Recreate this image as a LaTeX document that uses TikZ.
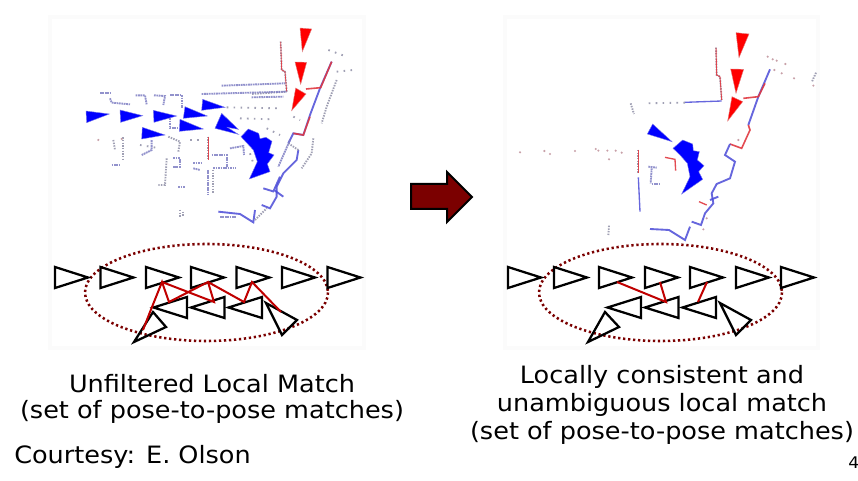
\documentclass[tikz,border=0pt]{standalone}
\usepackage{fontspec}
\setmainfont[FakeStretch=1.07]{DejaVu Sans}
\definecolor{dkred}{HTML}{7B0000}
\definecolor{mred}{HTML}{C00000}
\definecolor{wallc}{HTML}{8080C4}
\definecolor{wallb}{HTML}{4C4CD8}
\definecolor{wallr}{HTML}{E03840}
\definecolor{wallg}{HTML}{A0A0B4}
\definecolor{dotr}{HTML}{C8A0A8}
\definecolor{panel}{HTML}{FBFBFB}
\tikzset{
  tri/.style={draw=black,line width=1.7pt,line join=miter,fill=none},
  match/.style={draw=mred,line width=1.5pt},
  region/.style={draw=dkred,line width=1.9pt,dash pattern=on 1.7pt off 2.05pt},
  wallplain/.style={draw=wallc,line width=1.4pt,opacity=.85,dash pattern=on 1.3pt off .5pt},
  wallsolid/.style={draw=wallb,line width=1.4pt,opacity=.85},
  wallred/.style={draw=wallr,line width=1.2pt,opacity=.9},
  wallgray/.style={draw=wallg,line width=1.4pt,dash pattern=on 1.1pt off .9pt},
  wallsparse/.style={draw=wallg,line width=1.4pt,dash pattern=on 1.2pt off 4pt},
  redpose/.style={fill=red,draw=red!60!gray!60,line width=.3pt},
  bluepose/.style={fill=blue,draw=blue!70!gray!60,line width=.3pt},
  lbl/.style={font=\fontsize{17.9pt}{20pt}\selectfont,inner sep=0pt,text=black},
  speck/.style={fill=dotr,draw=none}
}
\newcommand{\fwd}[2]{\draw[tri] (#1,#2) -- ++(0,21) -- ++(33,-10.5) -- cycle;}
\newcommand{\bwd}[2]{\draw[tri] (#1,#2) -- ++(0,21) -- ++(-33.5,-10.5) -- cycle;}
\begin{document}
\begin{tikzpicture}[x=.75pt,y=-.75pt]
\useasboundingbox (0,0) rectangle (858,481);
\fill[white] (0,0) rectangle (858,481);
\fill[panel] (48,15) rectangle (366,350);
\fill[panel] (503,15) rectangle (820,350);
\fill[white] (52,19) rectangle (362,346);
\fill[white] (507,19) rectangle (816,346);
% ---- left map
\begin{scope}[shift={(70,20)},x=.25pt,y=-.25pt]
\draw[wallgray] (632,65)--(635,150)--(645,155)--(650,215)--(545,222);
\draw[wallred,line width=.6pt] (632,65)--(635,150)--(645,155)--(650,215);
\draw[wallplain] (455,197)--(645,190);
\draw[wallplain] (395,222)--(650,215);
\draw[wallplain] (545,232)--(640,230);
\draw[wallsolid] (785,125)--(750,205)--(720,285)--(700,345)--(670,340)--(655,370);
\draw[wallred] (708,207)--(752,203)--(785,125);
\draw[wallred] (720,290)--(700,345)--(670,340);
\draw[wallsolid] (685,390)--(680,420)--(640,460)--(620,500)--(620,530)--(600,565)--(575,555);
\draw[wallgray] (655,370)--(685,390);
\draw[wallplain] (660,360)--(625,440);
\draw[wallsolid] (630,470)--(612,510)--(640,530);
\draw[wallsolid] (580,505)--(612,515);
\draw[wallsolid] (445,575)--(510,582)--(550,607)--(555,570);
\draw[wallplain] (450,590)--(500,590);
\draw[wallgray] (555,600)--(590,565);
\draw[wallsparse] (775,90)--(830,110);
\draw[wallsparse] (800,155)--(850,150);
\draw[wallgray] (800,180)--(770,260)--(755,310);
\draw[wallgray] (730,355)--(725,400)--(695,445);
\draw[wallplain] (90,218)--(125,218);
\draw[wallplain] (120,235)--(125,248)--(180,253);
\draw[wallplain] (197,226)--(225,226)--(230,253);
\draw[wallplain] (252,226)--(285,228)--(280,255);
\draw[wallplain] (300,225)--(335,225)--(335,265);
\draw[wallplain] (300,295)--(300,325)--(325,325);
\draw[wallgray] (130,360)--(135,390);
\draw[wallgray] (160,352)--(160,420);
\draw[wallplain] (125,435)--(150,435);
\draw[wallplain] (215,405)--(245,390)--(245,360);
\draw[wallgray] (295,350)--(330,365)--(325,395);
\draw[wallgray] (290,415)--(285,495)--(262,495);
\draw[wallplain] (310,415)--(330,415)--(330,440)--(310,440);
\draw[wallgray] (415,350)--(415,420);
\draw[wallred,line width=.6pt] (415,350)--(415,420);
\draw[wallplain] (415,450)--(415,525);
\draw[wallgray] (430,450)--(430,520);
\draw[wallplain] (425,405)--(470,405)--(470,440);
\draw[wallplain] (430,445)--(495,445);
\draw[wallplain] (480,385)--(520,378)--(522,405);
\draw[wallplain] (370,430)--(395,430);
\draw[wallplain] (370,445)--(390,450);
\draw[wallplain] (325,500)--(345,500);
\draw[wallgray] (330,570)--(330,590);
\draw[wallgray] (340,575)--(340,590);
\draw[wallsparse] (510,295)--(610,298);
\draw[wallsparse] (470,262)--(625,265);
\draw[wallsparse] (360,360)--(395,360);
\draw[wallsparse] (670,290)--(690,300);
\draw[wallsparse] (590,325)--(630,345);
\draw[wallsparse] (210,375)--(270,385);
\draw[wallsparse] (540,400)--(550,430);
\fill[speck] (85,360) circle (3.5);
\fill[speck] (155,357) circle (3.5);
% poses
\draw[bluepose] (48,273)--(118,282)--(50,308)--cycle;
\draw[bluepose] (150,270)--(218,287)--(152,307)--cycle;
\draw[bluepose] (250,271)--(320,288)--(252,307)--cycle;
\draw[bluepose] (345,260)--(412,288)--(340,295)--cycle;
\draw[bluepose] (398,238)--(465,262)--(395,271)--cycle;
\draw[bluepose] (330,298)--(400,327)--(328,334)--cycle;
\draw[bluepose] (217,322)--(285,345)--(215,357)--cycle;
\draw[bluepose] (455,280)--(505,328)--(472,322)--(505,343)--(435,325)--cycle;
\draw[bluepose] (535,327)--(566,340)--(570,356)--(588,352)--(606,364)--(596,398)--(612,405)--(592,432)--(600,455)--(538,477)--(562,425)--(550,390)--(513,350)--cycle;
\draw[redpose] (690,24)--(725,27)--(697,95)--cycle;
\draw[redpose] (675,126)--(710,127)--(692,193)--cycle;
\draw[redpose] (677,204)--(708,222)--(665,272)--cycle;
\end{scope}
% ---- right map
\begin{scope}[shift={(500,20)},x=.25pt,y=-.25pt]
\draw[wallgray] (648,83)--(650,165)--(660,170)--(665,240);
\draw[wallred,line width=.7pt] (648,83)--(650,165)--(660,170)--(665,240);
\draw[wallsolid,line width=1pt] (665,243)--(555,247);
\draw[wallsparse] (555,248)--(435,250);
\draw[wallgray] (392,250)--(402,282);
\draw[wallsolid] (810,148)--(775,230)--(745,315);
\draw[wallred] (730,235)--(775,230)--(795,190);
\draw[wallred] (745,315)--(750,330)--(725,385)--(690,372);
\draw[wallsolid] (690,372)--(675,405)--(705,425)--(690,475)--(650,492)--(635,520)--(640,550)--(615,580)--(603,615)--(575,605);
\draw[wallsolid] (630,540)--(655,530);
\draw[wallred,line width=1pt] (597,545)--(620,555);
\draw[wallsolid] (450,627)--(507,630)--(555,660)--(570,620);
\draw[wallgray] (948,158)--(935,187);
\foreach \p in {(803,110),(818,118),(830,122),(856,132),(845,160),(882,175),(940,197),(823,150),(60,397),(133,393),(150,402),(225,393),(287,387),(295,392),(322,392),(347,392),(365,398),(327,418),(610,628),(620,595),(715,360)}
  \fill[speck] \p circle (3.5);
\draw[wallgray] (415,390)--(415,460);
\draw[wallred,line width=.6pt] (415,390)--(415,460);
\draw[wallsolid,line width=1pt] (415,472)--(420,575);
\draw[wallplain] (445,440)--(470,443);
\draw[wallplain] (455,445)--(452,490);
\draw[wallplain] (455,493)--(478,493);
\draw[wallred,line width=1pt] (495,412)--(525,418)--(527,452);
\draw[wallgray] (327,617)--(325,645);
\draw[bluepose] (458,312)--(516,365)--(442,342)--cycle;
\draw[bluepose] (548,360)--(578,372)--(580,392)--(598,395)--(592,420)--(612,437)--(596,455)--(608,478)--(545,522)--(570,470)--(562,430)--(540,405)--(519,385)--cycle;
\draw[redpose] (708,38)--(747,42)--(717,113)--cycle;
\draw[redpose] (692,147)--(731,148)--(708,220)--cycle;
\draw[redpose] (696,230)--(728,245)--(683,303)--cycle;
\end{scope}
% ---- arrow
\draw[fill=dkred,draw=black,line width=1.5pt,line join=miter] (411,184)--(447,184)--(447,172)--(472,197)--(447,222)--(447,209)--(411,209)--cycle;
% ---- left chain
\draw[region] (206.5,292.5) ellipse [x radius=121.5,y radius=48.5];
\foreach \x in {55,100.5,146,191,236.5,282,327.5} {\fwd{\x}{267}}
\foreach \x in {187,224.5,262} {\bwd{\x}{297}}
\draw[tri] (134,342)--(153,312)--(166,327)--cycle;
\draw[tri] (266,303)--(297,320)--(282,335)--cycle;
\coordinate (la) at (143,330);
\coordinate (lb) at (150,312);
\coordinate (lc) at (162,282);
\coordinate (ld) at (169,302);
\coordinate (le) at (208,282);
\coordinate (lf) at (214,302);
\coordinate (lg) at (244,302);
\coordinate (lh) at (252,282);
\coordinate (li) at (281,312);
\draw[match] (la)--(lb)--(lc)--(ld)--(le)--(lf)--(lc);
\draw[match] (le)--(lg)--(lh)--(li);
% ---- right chain
\draw[region] (660.5,292.5) ellipse [x radius=121.5,y radius=48.5];
\foreach \x in {508,554,599,645,690,736,781} {\fwd{\x}{267}}
\foreach \x in {641,678.5,716} {\bwd{\x}{297}}
\draw[tri] (588,342)--(605,312)--(619,327)--cycle;
\draw[tri] (720,303)--(751,320)--(736,335)--cycle;
\coordinate (ra) at (617,282);
\coordinate (rb) at (666,302);
\coordinate (rc) at (660,282);
\coordinate (rd) at (707,282);
\coordinate (re) at (698,302);
\draw[match] (ra)--(rb)--(rc);
\draw[match] (rd)--(re);
% ---- text
\node[lbl] (t1) at (212,384) {Unfiltered Local Match};
\node[lbl] (t2) at (212,412) {(set of pose-to-pose matches)};
\node[lbl] (t3) at (662,377) {Locally consistent and};
\node[lbl] (t4) at (662,405) {unambiguous local match};
\node[lbl] (t5) at (662,433) {(set of pose-to-pose matches)};
\node[lbl,anchor=west] (t6) at (14,457) {Courtesy: E. Olson};
\node[inner sep=0pt,anchor=west,font=\fontsize{12pt}{14pt}\selectfont] (t7) at (848,463) {4};
\end{tikzpicture}
\end{document}
